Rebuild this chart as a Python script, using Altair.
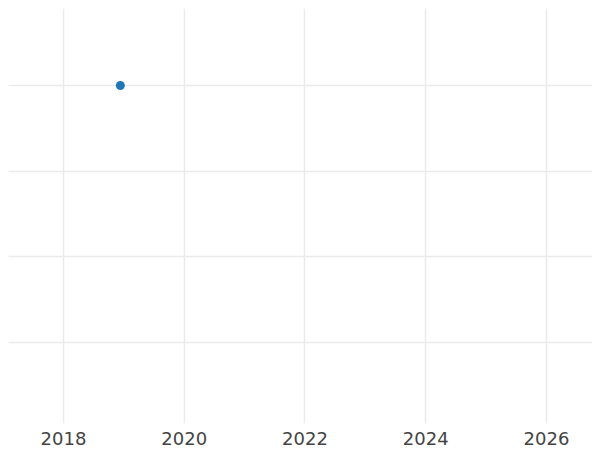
import altair as alt
import pandas as pd

years = [2018.95]
values = [4]
x_ticks = [2018, 2020, 2022, 2024, 2026]
y_grid = [1, 2, 3, 4]

df = pd.DataFrame({"year": years, "value": values})

chart = alt.Chart(df).mark_circle(size=80, opacity=1, color="#1f77b4").encode(
    x=alt.X("year:Q",
            scale=alt.Scale(domain=[2017.089, 2026.762], nice=False, zero=False),
            axis=alt.Axis(values=x_ticks, format="d", title=None, domain=False,
                          ticks=False, labelFontSize=18, labelColor="#444444",
                          labelFont="DejaVu Sans", labelPadding=7,
                          gridColor="#ebebeb", gridWidth=1.5)),
    y=alt.Y("value:Q",
            scale=alt.Scale(domain=[0.0526, 4.906], nice=False, zero=False),
            axis=alt.Axis(values=y_grid, labels=False, ticks=False, domain=False,
                          title=None, gridColor="#ebebeb", gridWidth=1.5)),
).properties(
    width=584, height=415,
    padding={"left": 0, "top": 0, "right": 0, "bottom": 27},
    autosize=alt.AutoSizeParams(type="none"),
).configure_view(stroke=None)

chart.save("out.html", embed_options={"renderer": "svg", "actions": False})
